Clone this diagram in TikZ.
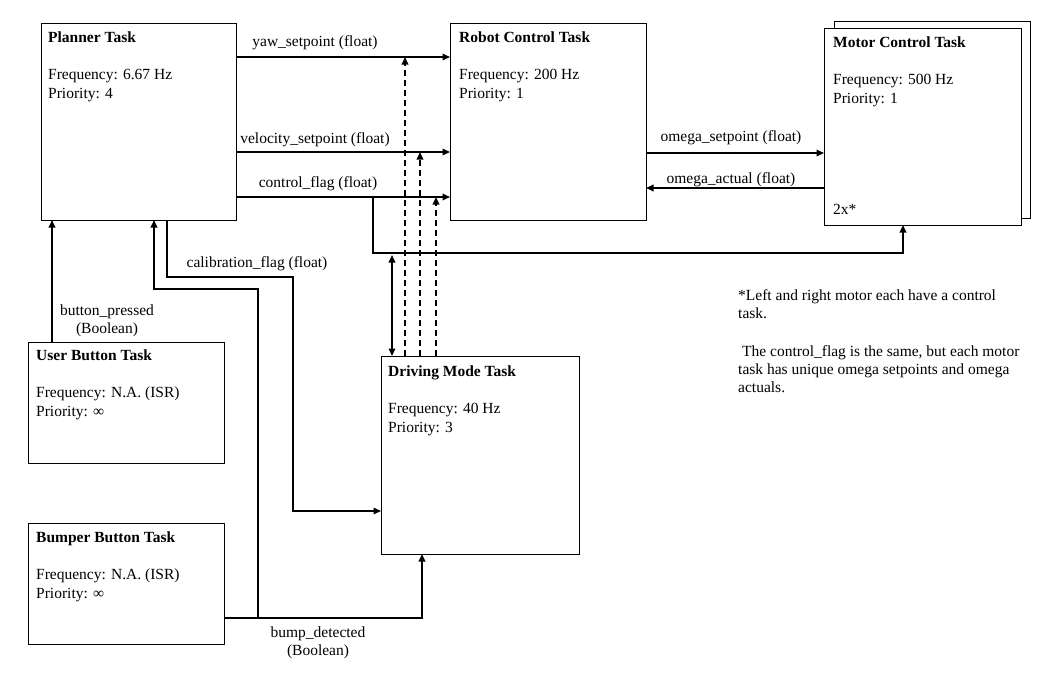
\documentclass[tikz,border=0pt]{standalone}
\usepackage{fontspec}
\setmainfont{Liberation Serif}
\usetikzlibrary{arrows.meta}
\begin{document}
\begin{tikzpicture}[x=1pt,y=-1pt,
  taskbox/.style={draw=black, line width=0.9pt, fill=white, inner sep=0pt, outer sep=0pt, anchor=north west},
  txt/.style={anchor=base west, inner sep=0pt, font=\fontsize{15.5}{18.5}\selectfont},
  ttl/.style={txt, font=\fontsize{15.5}{18.5}\selectfont\bfseries},
  lbl/.style={anchor=base, inner sep=0pt, font=\fontsize{15.5}{18.5}\selectfont},
  conn/.style={line width=1.7pt, -{Triangle[length=7.5pt,width=6.5pt]}},
  dconn/.style={line width=1.7pt, dash pattern=on 6pt off 4pt, -{Triangle[length=7.5pt,width=6.5pt]}},
  biconn/.style={line width=1.7pt, {Triangle[length=7.5pt,width=6.5pt]}-{Triangle[length=7.5pt,width=6.5pt]}}
]
\useasboundingbox (0,0) rectangle (1041,683);
\fill[white] (0,0) rectangle (1041,683);

% boxes
\node[taskbox, minimum width=195, minimum height=197] (pl) at (41,23) {};
\node[taskbox, minimum width=196, minimum height=197] (rc) at (450,23) {};
\node[taskbox, minimum width=196, minimum height=197] (mb) at (834,21) {};
\node[taskbox, minimum width=197, minimum height=197] (mf) at (824,28) {};
\node[taskbox, minimum width=196, minimum height=121] (ub) at (28,342) {};
\node[taskbox, minimum width=196, minimum height=121] (bb) at (28,523) {};
\node[taskbox, minimum width=198, minimum height=198] (dm) at (381,356) {};

% box texts
\node[ttl] (pl-t) at (48,42) {Planner Task};
\node[txt] (pl-f) at (48,79) {Frequency: 6.67 Hz};
\node[txt] (pl-p) at (48,98) {Priority: 4};

\node[ttl] (rc-t) at (459,42) {Robot Control Task};
\node[txt] (rc-f) at (459,79) {Frequency: 200 Hz};
\node[txt] (rc-p) at (459,98) {Priority: 1};

\node[ttl] (mf-t) at (833,47) {Motor Control Task};
\node[txt] (mf-f) at (833,84) {Frequency: 500 Hz};
\node[txt] (mf-p) at (833,103) {Priority: 1};
\node[txt] (mf-n) at (833,214) {2x*};

\node[ttl] (ub-t) at (36,360) {User Button Task};
\node[txt] (ub-f) at (36,397) {Frequency: N.A. (ISR)};
\node[txt] (ub-p) at (36,416) {Priority: ∞};

\node[ttl] (dm-t) at (388,376) {Driving Mode Task};
\node[txt] (dm-f) at (388,413) {Frequency: 40 Hz};
\node[txt] (dm-p) at (388,432) {Priority: 3};

\node[ttl] (bb-t) at (36,542) {Bumper Button Task};
\node[txt] (bb-f) at (36,579) {Frequency: N.A. (ISR)};
\node[txt] (bb-p) at (36,598) {Priority: ∞};

% junction coordinates
\coordinate (y1) at (405,57);
\coordinate (v1) at (420,152);
\coordinate (c1) at (436,197);
\coordinate (cfj) at (373,197);
\coordinate (bi) at (392,255);
\coordinate (bj) at (258,618);

% planner -> robot control
\draw[conn] (pl.east |- y1) -- (rc.west |- y1);
\draw[conn] (pl.east |- v1) -- (rc.west |- v1);
\draw[conn] (pl.east |- c1) -- (rc.west |- c1);
\node[lbl] (l-yaw) at (315,46) {yaw\_setpoint (float)};
\node[lbl] (l-vel) at (315,143) {velocity\_setpoint (float)};
\node[lbl] (l-cf) at (318,187) {control\_flag (float)};

% control flag to motor
\draw[conn] (cfj) -- (cfj |- 0,253) -| (mf.south -| 903,0);

% driving mode dashed
\draw[dconn] (dm.north -| y1) -- (y1);
\draw[dconn] (dm.north -| v1) -- (v1);
\draw[dconn] (dm.north -| c1) -- (c1);
\draw[biconn] (bi) -- (dm.north -| bi);

% robot <-> motor
\draw[conn] (rc.east |- 0,153) -- (mf.west |- 0,153);
\draw[conn] (mf.west |- 0,188) -- (rc.east |- 0,188);
\node[lbl] (l-os) at (731,141) {omega\_setpoint (float)};
\node[lbl] (l-oa) at (731,183) {omega\_actual (float)};

% user button
\draw[conn] (ub.north -| 52,0) -- (pl.south -| 52,0);
\node[lbl] (l-bp1) at (107,315) {button\_pressed};
\node[lbl] (l-bp2) at (107,333) {(Boolean)};

% calibration flag
\draw[conn] (pl.south -| 167,0) |- (293,277) |- (dm.west |- 0,511);
\node[lbl] (l-cal) at (257,267) {calibration\_flag (float)};

% bump detected
\draw[conn] (bb.east |- bj) -| (dm.south -| 422,0);
\draw[conn] (bj) |- (154,289) -- (pl.south -| 154,0);
\node[lbl] (l-bd1) at (318,637) {bump\_detected};
\node[lbl] (l-bd2) at (318,655) {(Boolean)};

% note
\node[txt] (n1) at (738,300) {*Left and right motor each have a control};
\node[txt] (n2) at (738,318) {task.};
\node[txt] (n3) at (742,356) {The control\_flag is the same, but each motor};
\node[txt] (n4) at (738,374) {task has unique omega setpoints and omega};
\node[txt] (n5) at (738,392) {actuals.};
\end{tikzpicture}
\end{document}
